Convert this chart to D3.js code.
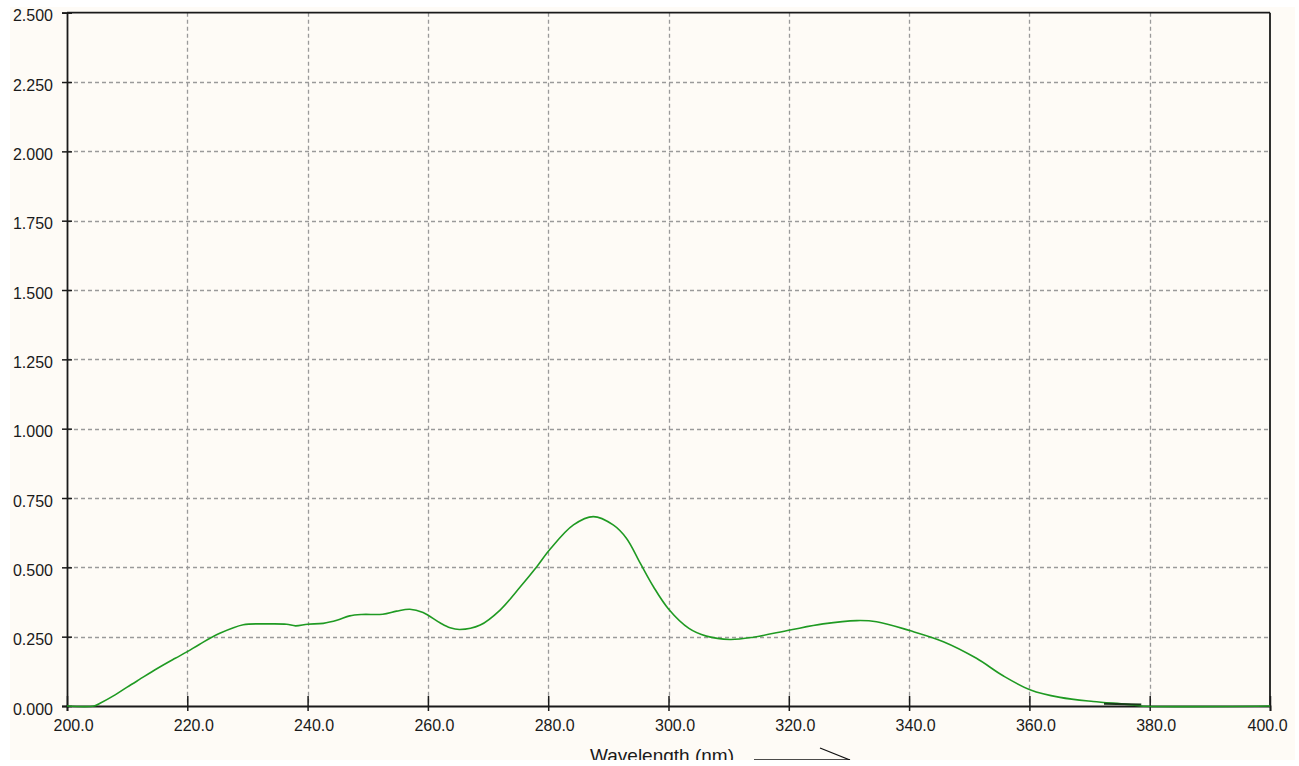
<!DOCTYPE html>
<html>
<head>
<meta charset="utf-8">
<script src="https://cdn.jsdelivr.net/npm/d3@7"></script>
<style>
  html, body { margin: 0; padding: 0; background: #ffffff; }
  svg { display: block; }
  text { font-family: "Liberation Sans", Arial, sans-serif; fill: #1a1a1a; }
</style>
</head>
<body>
<svg id="chart" width="1299" height="766"></svg>
<script>
// ---- data ----
const wavelength = [200, 204.5, 205.5, 208, 210, 212, 215, 218, 220, 222, 225.4, 229.3, 233, 236.5, 238, 240, 242.6, 245, 247, 249, 252.5, 254.8, 257, 259.2, 262, 263.7, 265.3, 268.7, 272, 275.3, 278.1, 280.3, 284.2, 287.5, 290.8, 293, 295.3, 297.5, 300, 303.4, 306.3, 310.2, 314.1, 320.2, 325.7, 331.3, 334.6, 340.1, 345.7, 351.2, 355.7, 360.2, 365.1, 370.6, 376.2, 378.5, 400];
const absorbance = [0, 0, 0.01, 0.04, 0.068, 0.095, 0.135, 0.172, 0.196, 0.222, 0.262, 0.293, 0.296, 0.295, 0.289, 0.295, 0.298, 0.31, 0.325, 0.33, 0.331, 0.342, 0.349, 0.337, 0.30, 0.282, 0.276, 0.292, 0.346, 0.428, 0.502, 0.565, 0.653, 0.683, 0.653, 0.605, 0.515, 0.43, 0.35, 0.28, 0.252, 0.24, 0.248, 0.274, 0.296, 0.308, 0.304, 0.272, 0.232, 0.172, 0.108, 0.058, 0.031, 0.016, 0.006, 0, 0];
const darkWavelength = [372.4, 378.6];
const darkAbsorbance = [0.008, 0.005];
const xTicks = [200, 220, 240, 260, 280, 300, 320, 340, 360, 380, 400];
const yTicks = [0, 0.25, 0.5, 0.75, 1.0, 1.25, 1.5, 1.75, 2.0, 2.25, 2.5];
const xTitle = "Wavelength (nm)";

// ---- layout ----
const svg = d3.select("#chart");
const panel = { x: 10, y: 7, w: 1285, h: 753 };
const x = d3.scaleLinear().domain([200, 400]).range([67, 1270]);
const y = d3.scaleLinear().domain([0, 2.5]).range([706, 12.7]);

svg.append("defs").append("clipPath").attr("id", "panelClip")
  .append("rect").attr("x", panel.x).attr("y", panel.y).attr("width", panel.w).attr("height", panel.h);

const g = svg.append("g").attr("clip-path", "url(#panelClip)");
g.append("rect").attr("x", panel.x).attr("y", panel.y).attr("width", panel.w).attr("height", panel.h)
  .attr("fill", "#fefbf6");

// grid
g.append("g").selectAll("line").data(xTicks.filter(d => d > 200 && d < 400)).join("line")
  .attr("x1", d => Math.round(x(d)) + 0.5).attr("x2", d => Math.round(x(d)) + 0.5)
  .attr("y1", y(2.5)).attr("y2", y(0))
  .attr("stroke", "#9a9a9a").attr("stroke-width", 1.3).attr("stroke-dasharray", "4,3");
g.append("g").selectAll("line").data(yTicks.filter(d => d > 0 && d < 2.5)).join("line")
  .attr("y1", d => Math.round(y(d)) + 0.5).attr("y2", d => Math.round(y(d)) + 0.5)
  .attr("x1", x(200)).attr("x2", x(400))
  .attr("stroke", "#9a9a9a").attr("stroke-width", 1.3).attr("stroke-dasharray", "4,3");

// axes via d3 axis generators
const xAxis = d3.axisBottom(x).tickValues(xTicks).tickSize(5).tickFormat(d3.format(".1f"));
const xg = g.append("g").attr("transform", `translate(0,${y(0)})`).call(xAxis);
xg.select(".domain").attr("stroke", "#1a1a1a").attr("stroke-width", 1.8);
xg.selectAll(".tick line").attr("stroke", "#1a1a1a").attr("stroke-width", 1.5).attr("y1", -10).attr("y2", 5);
xg.selectAll(".tick text").attr("font-size", 16).attr("fill", "#1a1a1a")
  .attr("font-family", "Liberation Sans, Arial, sans-serif")
  .attr("y", 14).attr("dy", "0.71em")
  .attr("dx", d => d === 400 ? -3 : 6);

const yAxis = d3.axisLeft(y).tickValues(yTicks).tickSize(5).tickFormat(d3.format(".3f"));
const yg = g.append("g").attr("transform", `translate(${x(200)},0)`).call(yAxis);
yg.select(".domain").attr("stroke", "#1a1a1a").attr("stroke-width", 1.8);
yg.selectAll(".tick line").attr("stroke", "#1a1a1a").attr("stroke-width", 1.5).attr("x1", -5).attr("x2", 5);
yg.selectAll(".tick text").attr("font-size", 16).attr("fill", "#1a1a1a")
  .attr("font-family", "Liberation Sans, Arial, sans-serif")
  .attr("x", -14).attr("dy", "0.5em");

// top and right borders
g.append("line").attr("x1", x(200)).attr("x2", x(400)).attr("y1", y(2.5)).attr("y2", y(2.5))
  .attr("stroke", "#1a1a1a").attr("stroke-width", 1.8);
g.append("line").attr("x1", x(400)).attr("x2", x(400)).attr("y1", y(2.5)).attr("y2", y(0))
  .attr("stroke", "#1a1a1a").attr("stroke-width", 1.8);

// spectrum
const pts = wavelength.map((w, i) => [w, absorbance[i]]);
const line = d3.line().x(d => x(d[0])).y(d => y(d[1])).curve(d3.curveCatmullRom.alpha(0.5));
g.append("path").datum(pts).attr("d", line)
  .attr("fill", "none").attr("stroke", "#1f9a22").attr("stroke-width", 1.6);

const darkPts = darkWavelength.map((w, i) => [w, darkAbsorbance[i]]);
g.append("path").datum(darkPts).attr("d", d3.line().x(d => x(d[0])).y(d => y(d[1])))
  .attr("fill", "none").attr("stroke", "#1a3a1a").attr("stroke-width", 2);

// axis title and arrow (clipped at the panel bottom, like the reference)
g.append("text").attr("x", 662).attr("y", 762).attr("text-anchor", "middle")
  .attr("font-size", 19).text(xTitle);
const ax0 = 754, ax1 = 850, ay = 760;
g.append("line").attr("x1", ax0).attr("x2", ax1).attr("y1", ay).attr("y2", ay)
  .attr("stroke", "#111").attr("stroke-width", 1.5);
g.append("line").attr("x1", ax1 - 30).attr("x2", ax1).attr("y1", ay - 12).attr("y2", ay)
  .attr("stroke", "#111").attr("stroke-width", 1.2);
g.append("line").attr("x1", ax1 - 30).attr("x2", ax1).attr("y1", ay + 12).attr("y2", ay)
  .attr("stroke", "#111").attr("stroke-width", 1.2);
</script>
</body>
</html>
